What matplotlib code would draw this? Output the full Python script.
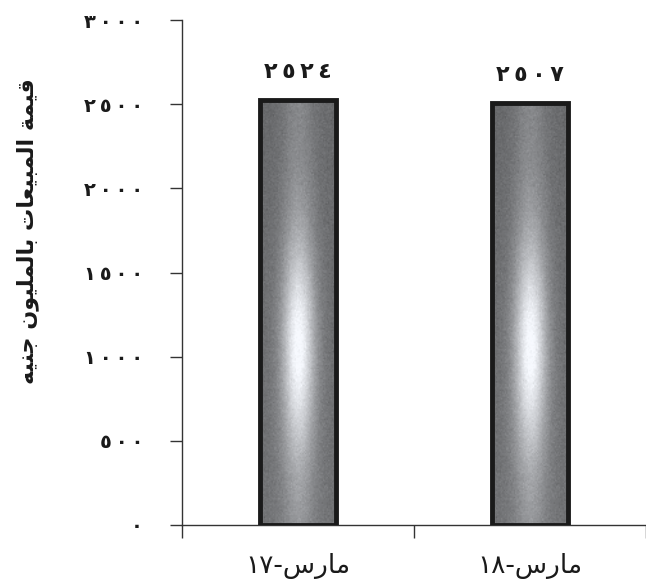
import matplotlib
matplotlib.use("Agg")
import matplotlib.pyplot as plt
import numpy as np

# ---------------- data ----------------
categories = ["مارس-١٧", "مارس-١٨"]
values = [2524, 2507]
y_ticks = [0, 500, 1000, 1500, 2000, 2500, 3000]
y_label = "قيمة المبيعات بالمليون جنيه"

# ---------------- minimal Arabic shaping ----------------
# (isolated, final, initial, medial); None where the letter does not join left
FORMS = {
    "ا": ("\uFE8D", "\uFE8E", None, None),
    "ب": ("\uFE8F", "\uFE90", "\uFE91", "\uFE92"),
    "ت": ("\uFE95", "\uFE96", "\uFE97", "\uFE98"),
    "ة": ("\uFE93", "\uFE94", None, None),
    "ج": ("\uFE9D", "\uFE9E", "\uFE9F", "\uFEA0"),
    "ر": ("\uFEAD", "\uFEAE", None, None),
    "س": ("\uFEB1", "\uFEB2", "\uFEB3", "\uFEB4"),
    "ع": ("\uFEC9", "\uFECA", "\uFECB", "\uFECC"),
    "ق": ("\uFED5", "\uFED6", "\uFED7", "\uFED8"),
    "ل": ("\uFEDD", "\uFEDE", "\uFEDF", "\uFEE0"),
    "م": ("\uFEE1", "\uFEE2", "\uFEE3", "\uFEE4"),
    "ن": ("\uFEE5", "\uFEE6", "\uFEE7", "\uFEE8"),
    "ه": ("\uFEE9", "\uFEEA", "\uFEEB", "\uFEEC"),
    "و": ("\uFEED", "\uFEEE", None, None),
    "ي": ("\uFEF1", "\uFEF2", "\uFEF3", "\uFEF4"),
}


def _joins_left(c):
    return c in FORMS and FORMS[c][2] is not None


def shape(text):
    out = []
    for i, c in enumerate(text):
        if c not in FORMS:
            out.append(c)
            continue
        prev = text[i - 1] if i > 0 else ""
        nxt = text[i + 1] if i + 1 < len(text) else ""
        con_prev = _joins_left(prev)
        con_next = _joins_left(c) and nxt in FORMS
        iso, fin, ini, med = FORMS[c]
        if con_prev and con_next:
            out.append(med)
        elif con_prev:
            out.append(fin)
        elif con_next:
            out.append(ini)
        else:
            out.append(iso)
    return "".join(out)


def visual(text):
    """Shape + simple bidi for RTL text with digit runs kept LTR."""
    s = shape(text)
    runs, cur, cur_d = [], "", None
    for c in s:
        d = c.isdigit()
        if cur and d != cur_d:
            runs.append((cur, cur_d))
            cur = ""
        cur += c
        cur_d = d
    if cur:
        runs.append((cur, cur_d))
    res = []
    for r, d in reversed(runs):
        res.append(r if d else r[::-1])
    return "".join(res)


AR_DIGITS = str.maketrans("0123456789", "٠١٢٣٤٥٦٧٨٩")


def ar_num(n, sep=" "):
    return sep.join(str(int(n)).translate(AR_DIGITS))


# ---------------- figure ----------------
W, H = 646, 581
fig = plt.figure(figsize=(W / 100, H / 100), dpi=100)
ax = fig.add_axes([182 / W, 1 - 525 / H, (W - 182) / W, (525 - 20) / H])

FONT = "DejaVu Sans"
bar_w = 0.33

# gradient texture
nx, ny = 60, 300
u = np.linspace(0, 1, nx)[None, :]
v = np.linspace(0, 1, ny)[:, None]  # 0 = bottom, 1 = top
horiz = np.exp(-((u - 0.5) / 0.22) ** 2)
spot = np.exp(-((v - 0.42) / 0.25) ** 2)
shade = 0.42 + 0.12 * horiz + 0.45 * horiz * spot + 0.04 * (1 - v)
shade = np.clip(shade, 0, 1)
rng_tex = np.random.default_rng(0)
shade = np.clip(shade + rng_tex.normal(0, 0.02, shade.shape), 0, 1)
rgb = np.dstack([shade * 0.97, shade * 0.98, shade * 1.0])

x = np.arange(len(categories))
for xi, val in zip(x, values):
    ax.imshow(rgb, extent=(xi - bar_w / 2, xi + bar_w / 2, 0, val),
              origin="lower", aspect="auto", interpolation="bilinear", zorder=2)
bars = ax.bar(x, values, width=bar_w, facecolor="none", edgecolor="#1a1a1a",
              linewidth=3.5, zorder=3)

for xi, val in zip(x, values):
    ax.annotate(ar_num(val, "\u2009"), (xi, val), xytext=(0, 20),
                textcoords="offset points", ha="center", va="center",
                fontsize=16, fontweight="bold", family=FONT, color="#1a1a1a")

ax.set_xlim(-0.5, -0.5 + (W - 182) / 236)
ax.set_ylim(0, 3000)

ax.set_yticks(y_ticks)
ax.set_yticklabels([ar_num(t, "\u2009") for t in y_ticks], fontsize=14,
                   fontweight="bold", family=FONT, color="#1a1a1a")
ax.tick_params(axis="y", direction="out", length=9, width=1, pad=19,
               color="#333333")

ax.set_xticks([-0.5, 0.5, 1.5])
ax.set_xticklabels([])
ax.tick_params(axis="x", which="major", direction="out", length=9, width=1,
               color="#333333")
ax.set_xticks(x, minor=True)
ax.set_xticklabels([visual(c) for c in categories], minor=True, fontsize=19,
                   family=FONT, color="#1a1a1a")
ax.tick_params(axis="x", which="minor", length=0, pad=20)

for s in ["top", "right"]:
    ax.spines[s].set_visible(False)
for s in ["left", "bottom"]:
    ax.spines[s].set_color("#333333")
    ax.spines[s].set_linewidth(1)

fig.text(28 / W, 1 - 231 / H, visual(y_label), rotation=90, ha="center",
         va="center", fontsize=16, fontweight="bold", family=FONT,
         color="#1a1a1a")

fig.savefig("out.png", dpi=100, facecolor="white")
